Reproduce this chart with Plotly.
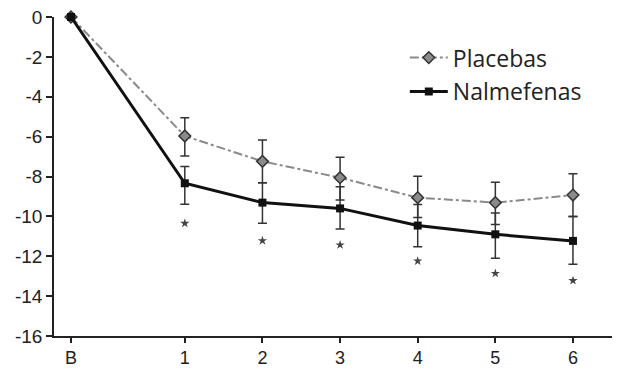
import plotly.graph_objects as go

# ---- data ----
tick_labels = ["B", "1", "2", "3", "4", "5", "6"]
x_pos = [-0.466, 1, 2, 3, 4, 5, 6]

placebo = [0, -5.97, -7.24, -8.06, -9.06, -9.31, -8.93]
placebo_err_up = [0, 0.92, 1.07, 1.02, 1.07, 1.02, 1.07]
placebo_err_down = [0, 1.0, 1.07, 1.12, 1.0, 1.1, 1.08]

nalmefene = [0, -8.34, -9.31, -9.60, -10.46, -10.90, -11.23]
nal_err_up = [0, 0.84, 1.0, 1.09, 1.06, 1.07, 1.22]
nal_err_down = [0, 1.05, 1.04, 1.03, 1.06, 1.2, 1.17]

star_x = [1, 2, 3, 4, 5, 6]
star_y = [-10.35, -11.22, -11.43, -12.24, -12.86, -13.22]

y_ticks = list(range(-16, 1, 2))

fig = go.Figure()

fig.add_trace(go.Scatter(
    x=x_pos, y=placebo, name="Placebas", mode="lines+markers",
    line=dict(color="#8a8a8a", width=2, dash="dashdot"),
    marker=dict(symbol="diamond", size=9, color="#8a8a8a",
                line=dict(color="#333333", width=1.5)),
    error_y=dict(type="data", symmetric=False, array=placebo_err_up,
                 arrayminus=placebo_err_down, color="#333333",
                 thickness=1.5, width=4.5),
    cliponaxis=False, legendgroup="p",
))

fig.add_trace(go.Scatter(
    x=x_pos, y=nalmefene, name="Nalmefenas", mode="lines+markers",
    line=dict(color="#111111", width=3),
    marker=dict(symbol="square", size=8, color="#111111"),
    error_y=dict(type="data", symmetric=False, array=nal_err_up,
                 arrayminus=nal_err_down, color="#333333",
                 thickness=1.5, width=4.5),
    cliponaxis=False, legendgroup="n",
))

fig.add_trace(go.Scatter(
    x=star_x, y=star_y, mode="markers", showlegend=False,
    marker=dict(symbol="star", size=7, color="#444444"),
    cliponaxis=False,
))

# page body has an 8px margin, so the figure is sized to fit inside
fig.update_layout(
    width=612, height=366,
    margin=dict(l=46, r=2, t=9, b=38),
    paper_bgcolor="white", plot_bgcolor="white",
    font=dict(family="Liberation Sans, Arial", size=19, color="#222222"),
    legend=dict(
        x=0.622, y=0.94, xanchor="left", yanchor="top",
        font=dict(family="Open Sans", size=23, color="#222222"),
        bgcolor="rgba(0,0,0,0)", tracegroupgap=1, itemwidth=38,
    ),
    showlegend=True,
)

fig.update_xaxes(
    range=[-0.685, 6.58], tickvals=x_pos, ticktext=tick_labels,
    showline=True, linecolor="#222222", linewidth=1.5,
    ticks="outside", ticklen=5, tickwidth=1.5, tickcolor="#222222",
    showgrid=False, zeroline=False, tickfont=dict(size=18),
    automargin=False,
)
fig.update_yaxes(
    range=[-16, 0], tickvals=y_ticks,
    ticktext=[str(v) for v in y_ticks],
    showline=True, linecolor="#222222", linewidth=1.5,
    ticks="outside", ticklen=6, tickwidth=1.5, tickcolor="#222222",
    showgrid=False, zeroline=False, ticklabeloverflow="allow",
    automargin=False,
)

fig.write_html("out.html")
